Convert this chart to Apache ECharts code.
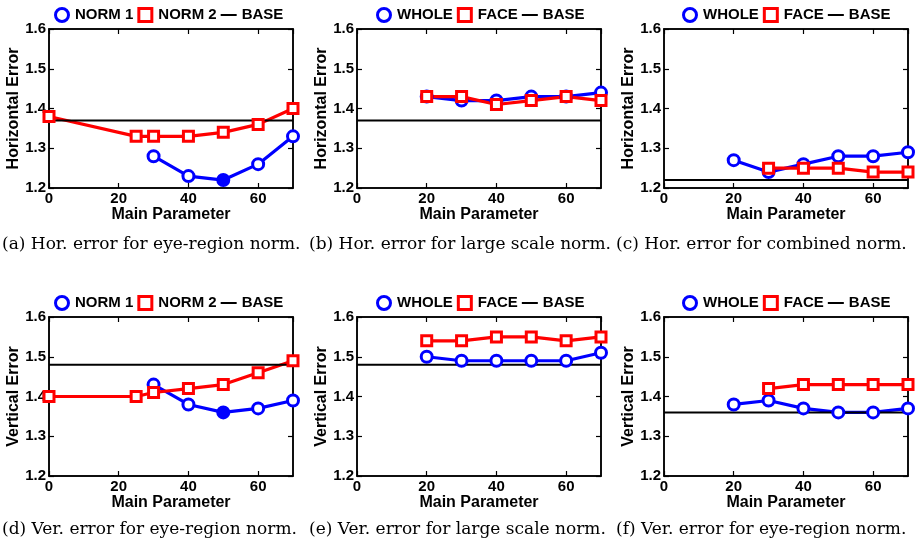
<!DOCTYPE html>
<html>
<head>
<meta charset="utf-8">
<script src="https://cdn.jsdelivr.net/npm/echarts@6/dist/echarts.min.js"></script>
<style>
  html, body { margin: 0; padding: 0; background: #fff; }
  #main { width: 919px; height: 547px; }
</style>
</head>
<body>
<div id="main"></div>
<script>
// x positions (Main Parameter)
var norm1X = [30, 40, 50, 60, 70];
var norm2X = [0, 25, 30, 40, 50, 60, 70];
var wholeX = [20, 30, 40, 50, 60, 70];
var faceLargeX = [20, 30, 40, 50, 60, 70];
var faceCombX = [30, 40, 50, 60, 70];
var baseX = [0, 70];
var norm1Best = 50; // filled marker

// horizontal error
var horNorm1 = [1.28, 1.23, 1.22, 1.26, 1.33];
var horNorm2 = [1.38, 1.33, 1.33, 1.33, 1.34, 1.36, 1.40];
var horLargeWhole = [1.43, 1.42, 1.42, 1.43, 1.43, 1.44];
var horLargeFace = [1.43, 1.43, 1.41, 1.42, 1.43, 1.42];
var horCombWhole = [1.27, 1.24, 1.26, 1.28, 1.28, 1.29];
var horCombFace = [1.25, 1.25, 1.25, 1.24, 1.24];

// vertical error
var verNorm1 = [1.43, 1.38, 1.36, 1.37, 1.39];
var verNorm2 = [1.40, 1.40, 1.41, 1.42, 1.43, 1.46, 1.49];
var verLargeWhole = [1.50, 1.49, 1.49, 1.49, 1.49, 1.51];
var verLargeFace = [1.54, 1.54, 1.55, 1.55, 1.54, 1.55];
var verCombWhole = [1.38, 1.39, 1.37, 1.36, 1.36, 1.37];
var verCombFace = [1.42, 1.43, 1.43, 1.43, 1.43];

var baseValues = [1.37, 1.37, 1.22, 1.48, 1.48, 1.36];

var captions = [
  "(a) Hor. error for eye-region norm.",
  "(b) Hor. error for large scale norm.",
  "(c) Hor. error for combined norm.",
  "(d) Ver. error for eye-region norm.",
  "(e) Ver. error for large scale norm.",
  "(f) Ver. error for eye-region norm."
];

var BLUE = "#0000ff", RED = "#ff0000";
var FONT = "Liberation Sans";

var panels = [
  { names: ["NORM 1", "NORM 2"], bx: norm1X, by: horNorm1, rx: norm2X, ry: horNorm2, yName: "Horizontal Error" },
  { names: ["WHOLE", "FACE"], bx: wholeX, by: horLargeWhole, rx: faceLargeX, ry: horLargeFace, yName: "Horizontal Error" },
  { names: ["WHOLE", "FACE"], bx: wholeX, by: horCombWhole, rx: faceCombX, ry: horCombFace, yName: "Horizontal Error" },
  { names: ["NORM 1", "NORM 2"], bx: norm1X, by: verNorm1, rx: norm2X, ry: verNorm2, yName: "Vertical Error" },
  { names: ["WHOLE", "FACE"], bx: wholeX, by: verLargeWhole, rx: faceLargeX, ry: verLargeFace, yName: "Vertical Error" },
  { names: ["WHOLE", "FACE"], bx: wholeX, by: verCombWhole, rx: faceCombX, ry: verCombFace, yName: "Vertical Error" }
];

// layout
var gridLefts = [49, 357, 664];
var gridTops = [29, 317];
var legendLefts = [54, 376, 682];
var legendTops = [7, 295];
var captionLefts = [2, 309, 616];
var captionTops = [236, 521];

function pairs(xs, ys) {
  return xs.map(function (x, i) { return [x, ys[i]]; });
}

var option = {
  animation: false,
  title: [], grid: [], xAxis: [], yAxis: [], legend: [], series: []
};

panels.forEach(function (p, i) {
  var col = i % 3, row = Math.floor(i / 3);
  option.grid.push({
    left: gridLefts[col], top: gridTops[row], width: 244, height: 159,
    show: true, borderColor: "#000", borderWidth: 1.5, backgroundColor: "#fff"
  });
  var tickStyle = { inside: true, length: 5, lineStyle: { color: "#000", width: 1.2 } };
  var lineAx = { show: true, onZero: false, lineStyle: { color: "#000", width: 1.5 } };
  option.xAxis.push({
    gridIndex: i, type: "value", min: 0, max: 70, interval: 20,
    name: "Main Parameter", nameLocation: "middle", nameGap: 16,
    nameTextStyle: { fontFamily: FONT, fontWeight: "bold", fontSize: 16, color: "#000" },
    axisLine: lineAx, axisTick: tickStyle, splitLine: { show: false },
    axisLabel: { showMaxLabel: false, margin: 3, fontFamily: FONT, fontWeight: "bold", fontSize: 15, color: "#000" }
  });
  option.xAxis.push({
    gridIndex: i, type: "value", position: "top", min: 0, max: 70, interval: 20,
    axisLine: lineAx, axisTick: tickStyle, splitLine: { show: false }, axisLabel: { show: false }
  });
  option.yAxis.push({
    gridIndex: i, type: "value", min: 1.2, max: 1.6, interval: 0.1,
    name: p.yName, nameLocation: "middle", nameGap: 27,
    nameTextStyle: { fontFamily: FONT, fontWeight: "bold", fontSize: 16, color: "#000" },
    axisLine: lineAx, axisTick: tickStyle, splitLine: { show: false },
    axisLabel: { margin: 3, fontFamily: FONT, fontWeight: "bold", fontSize: 15, color: "#000",
      formatter: function (v) { return v.toFixed(1); } }
  });
  option.yAxis.push({
    gridIndex: i, type: "value", position: "right", min: 1.2, max: 1.6, interval: 0.1,
    axisLine: lineAx, axisTick: tickStyle, splitLine: { show: false }, axisLabel: { show: false }
  });

  var blueData = pairs(p.bx, p.by).map(function (d) {
    if (p.names[0] === "NORM 1" && d[0] === norm1Best) {
      return { value: d, itemStyle: { color: BLUE } };
    }
    return d;
  });

  option.series.push({
    name: p.names[0], type: "line", xAxisIndex: 2 * i, yAxisIndex: 2 * i,
    data: blueData, clip: false,
    symbol: "circle", symbolSize: 11,
    lineStyle: { color: BLUE, width: 3.2 },
    itemStyle: { color: "#fff", borderColor: BLUE, borderWidth: 3 }
  });
  option.series.push({
    name: p.names[1], type: "line", xAxisIndex: 2 * i, yAxisIndex: 2 * i,
    data: pairs(p.rx, p.ry), clip: false,
    symbol: "rect", symbolSize: 10,
    lineStyle: { color: RED, width: 3.2 },
    itemStyle: { color: "#fff", borderColor: RED, borderWidth: 3 }
  });
  option.series.push({
    name: "BASE", type: "line", xAxisIndex: 2 * i, yAxisIndex: 2 * i,
    data: baseX.map(function (x) { return [x, baseValues[i]]; }),
    symbol: "none", clip: false,
    lineStyle: { color: "#000", width: 2 },
    itemStyle: { color: "#000" }
  });

  option.legend.push({
    left: legendLefts[col], top: legendTops[row], padding: 0, itemGap: 4,
    itemWidth: 16, itemHeight: 13, selectedMode: false,
    textStyle: { fontFamily: FONT, fontWeight: "bold", fontSize: 15, color: "#000" },
    data: [
      { name: p.names[0], icon: "circle", itemStyle: { color: "#fff", borderColor: BLUE, borderWidth: 3 } },
      { name: p.names[1], icon: "path://M0,0H10V10H0Z", itemStyle: { color: "#fff", borderColor: RED, borderWidth: 3 } },
      { name: "BASE", icon: "path://M0,0H16V2H0Z", itemStyle: { color: "#000", borderWidth: 0 } }
    ]
  });

  option.title.push({
    text: captions[i], left: captionLefts[col], top: captionTops[row], padding: 0,
    textStyle: { fontFamily: "DejaVu Serif", fontWeight: "normal", fontSize: 17, color: "#000" }
  });
});

var myChart = echarts.init(document.getElementById("main"));
myChart.setOption(option);
</script>
</body>
</html>
